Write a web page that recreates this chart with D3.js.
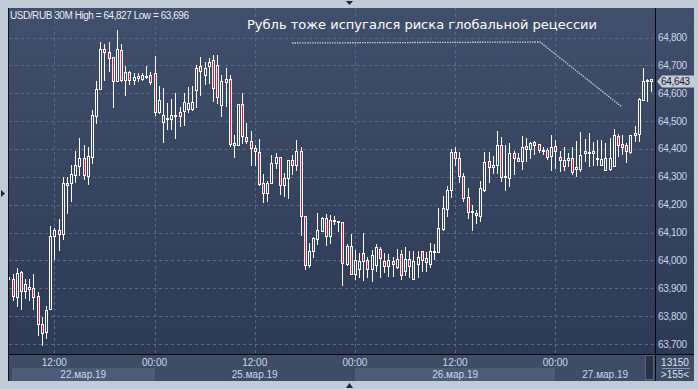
<!DOCTYPE html>
<html>
<head>
<meta charset="utf-8">
<script src="https://cdn.jsdelivr.net/npm/d3@7"></script>
<style>
body { margin: 0; background: #c0cbd8; }
svg { display: block; }
</style>
</head>
<body>
<div id="chart"></div>
<script>
var svgWidth = 698;
var svgHeight = 389;

// 30M candles, USD/RUB 22-27 mar 2019
var open = [63940,63932,63868,63958,63891,63898,63901,63871,63772,63743,63824,64089,64109,64094,64277,64279,64306,64340,64368,64304,
  64372,64519,64616,64758,64747,64729,64643,64754,64649,64675,64646,64654,64652,64661,64664,64671,64532,64496,64510,64509,
  64520,64532,64537,64544,64544,64610,64697,64667,64699,64719,64700,64559,64641,64651,64420,64413,64560,64442,64427,64402,
  64388,64277,64241,64277,64348,64370,64272,64295,64359,64344,64392,64158,63985,64033,64078,64106,64152,64086,64144,64140,
  64138,63987,64051,63952,63970,64025,64000,63970,63985,64041,63998,63981,63998,63977,64022,63961,64004,63934,63988,64032,
  64009,63988,64029,64029,64113,64184,64253,64389,64368,64302,64226,64172,64169,64160,64254,64356,64334,64341,64413,64298,
  64295,64384,64368,64358,64409,64399,64424,64417,64396,64395,64374,64409,64370,64340,64359,64368,64329,64329,64386,64387,
  64386,64366,64343,64326,64328,64338,64445,64417,64413,64389,64449,64455,64577,64643,64650];
var high = [63950,63951,63973,63962,63933,63933,63951,63886,63798,63836,64123,64115,64149,64298,64298,64342,64393,64440,64414,64408,
  64540,64643,64783,64777,64783,64729,64827,64777,64699,64680,64672,64672,64673,64698,64675,64734,64626,64618,64564,64579,
  64602,64550,64602,64622,64626,64700,64729,64712,64726,64738,64738,64667,64691,64665,64450,64560,64601,64493,64463,64413,
  64436,64311,64284,64379,64385,64370,64314,64359,64379,64431,64407,64158,64062,64085,64170,64157,64168,64162,64158,64141,
  64138,64059,64095,64038,64027,64098,64014,64036,64059,64049,64027,64023,64013,64042,64037,64047,64033,64033,64033,64032,
  64030,64062,64059,64188,64232,64267,64400,64407,64389,64314,64259,64200,64182,64284,64389,64389,64374,64464,64443,64413,
  64420,64392,64385,64446,64438,64426,64430,64417,64408,64403,64449,64431,64394,64407,64385,64407,64427,64461,64436,64456,
  64425,64433,64431,64421,64439,64472,64454,64449,64421,64449,64483,64583,64691,64651,64650];
var low = [63925,63858,63836,63827,63866,63859,63827,63731,63696,63722,63824,64006,64038,64078,64169,64213,64280,64306,64291,64275,
  64351,64494,64616,64647,64681,64552,64643,64645,64594,64632,64634,64645,64646,64656,64632,64523,64529,64426,64472,64473,
  64438,64481,64485,64532,64540,64550,64595,64634,64637,64573,64566,64519,64554,64411,64372,64413,64421,64421,64343,64341,
  64272,64209,64214,64277,64331,64239,64232,64225,64311,64326,64092,63970,63977,64012,64059,64106,64056,64062,64131,64106,
  63913,63982,63952,63934,63940,63931,63941,63925,63961,63939,63957,63943,63943,63973,63934,63947,63939,63934,63939,63961,
  63963,63977,64006,64029,64109,64160,64226,64341,64281,64212,64152,64108,64134,64142,64248,64281,64314,64314,64286,64254,
  64268,64311,64356,64329,64358,64368,64382,64388,64382,64365,64326,64332,64322,64326,64340,64311,64304,64322,64358,64340,
  64341,64343,64341,64326,64326,64338,64376,64382,64354,64385,64427,64427,64577,64573,64609];
var close = [63935,63873,63955,63891,63915,63903,63870,63773,63741,63822,64087,64108,64096,64277,64272,64310,64341,64368,64306,64375,
  64521,64614,64758,64747,64725,64643,64758,64649,64675,64646,64658,64662,64665,64663,64641,64532,64576,64521,64512,64521,
  64522,64518,64569,64565,64569,64691,64679,64689,64712,64620,64588,64643,64651,64419,64413,64560,64445,64427,64402,64392,
  64274,64241,64277,64348,64370,64272,64295,64359,64341,64392,64158,63985,64033,64080,64109,64152,64088,64144,64146,64141,
  63990,64051,63952,64000,63997,63997,63970,64020,64048,64009,63981,64000,63988,64005,63949,64005,63981,63997,64014,64002,
  63993,64032,64033,64116,64188,64253,64389,64366,64302,64225,64173,64176,64162,64259,64352,64334,64342,64413,64300,64303,
  64384,64369,64358,64407,64399,64420,64414,64395,64398,64370,64406,64392,64359,64359,64368,64317,64335,64377,64392,64389,
  64394,64368,64364,64366,64366,64451,64415,64408,64392,64449,64457,64579,64643,64647,64643];

var priceTicks = [63700,63800,63900,64000,64100,64200,64300,64400,64500,64600,64700,64800];
var timeIndex = [11,35,59,83,107,131];
var timeLabels = ["12:00","00:00","12:00","00:00","12:00","00:00"];
var dayStart = [-11,35,83,131];
var dateLabels = ["22.мар.19","25.мар.19","26.мар.19","27.мар.19"];
var lastPrice = 64643;

var plotLeft = 9, plotRight = 655, plotTop = 8, plotBottom = 354;

var x = d3.scaleLinear().domain([0, 154]).range([8.4, 651.35]);
var y = d3.scaleLinear().domain([63700, 64800]).range([344, 37.5]);
var fmt = function(d) { return d3.format(",")(d); };

var svg = d3.select("#chart")
  .append("svg")
  .attr("width", svgWidth)
  .attr("height", svgHeight);

var defs = svg.append("defs");
var grad = defs.append("linearGradient").attr("id", "bg").attr("x1", 0).attr("y1", 0).attr("x2", 0).attr("y2", 1);
grad.append("stop").attr("offset", "0%").attr("stop-color", "#404f6b");
grad.append("stop").attr("offset", "100%").attr("stop-color", "#2b3853");
defs.append("clipPath").attr("id", "plotclip")
  .append("rect").attr("x", plotLeft).attr("y", plotTop).attr("width", plotRight - plotLeft).attr("height", plotBottom - plotTop);

// frame
svg.append("rect").attr("width", svgWidth).attr("height", svgHeight).attr("fill", "#c0cbd8");
svg.append("rect").attr("x", 8).attr("y", plotTop).attr("width", 686).attr("height", 373).attr("fill", "url(#bg)");

// bottom axis area
svg.append("rect").attr("x", 9).attr("y", 355).attr("width", 685).attr("height", 26).attr("fill", "#3e4c66");
svg.selectAll("rect.dayband")
  .data(dayStart)
  .enter()
  .append("rect")
  .attr("class", "dayband")
  .attr("x", function(d, i) { return i == 0 ? 12 : Math.round(x(d)); })
  .attr("y", 368)
  .attr("width", function(d, i) {
    var a = i == 0 ? 12 : Math.round(x(d));
    var b = i < dayStart.length - 1 ? Math.round(x(dayStart[i + 1])) : plotRight;
    return b - a;
  })
  .attr("height", 13)
  .attr("fill", function(d, i) { return i % 2 == 0 ? "#4c5b76" : "#3e4c66"; });
// scroll box
svg.append("rect").attr("x", 645.5).attr("y", 355.5).attr("width", 8).attr("height", 24)
  .attr("fill", "#26324a").attr("stroke", "#56647c");

// grid
svg.selectAll("line.hgrid")
  .data(priceTicks)
  .enter()
  .append("line")
  .attr("class", "hgrid")
  .attr("x1", plotLeft).attr("x2", plotRight)
  .attr("y1", function(d) { return Math.round(y(d)) + 0.5; })
  .attr("y2", function(d) { return Math.round(y(d)) + 0.5; })
  .attr("stroke", "#5a6a86").attr("stroke-dasharray", "3,3");
svg.selectAll("line.vgrid")
  .data(timeIndex)
  .enter()
  .append("line")
  .attr("class", "vgrid")
  .attr("x1", function(d) { return Math.round(x(d)) + 0.5; })
  .attr("x2", function(d) { return Math.round(x(d)) + 0.5; })
  .attr("y1", plotTop).attr("y2", plotBottom)
  .attr("stroke", "#5a6a86").attr("stroke-dasharray", "3,3");

// candles
var candles = svg.append("g").attr("clip-path", "url(#plotclip)")
  .selectAll("g")
  .data(d3.range(open.length))
  .enter()
  .append("g");

candles.append("line")
  .attr("x1", function(i) { return Math.round(x(i)) + 0.5; })
  .attr("x2", function(i) { return Math.round(x(i)) + 0.5; })
  .attr("y1", function(i) { return Math.round(y(high[i])); })
  .attr("y2", function(i) { return Math.round(y(low[i])) + 1; })
  .attr("stroke", "#ffffff");

candles.append("rect")
  .attr("x", function(i) { return Math.round(x(i)) - 0.5; })
  .attr("y", function(i) { return Math.round(y(Math.max(open[i], close[i]))) + 0.5; })
  .attr("width", 2)
  .attr("height", function(i) {
    return Math.max(1, Math.round(y(Math.min(open[i], close[i]))) - Math.round(y(Math.max(open[i], close[i]))));
  })
  .attr("fill", function(i) { return close[i] < open[i] ? "#e2163f" : "#34425d"; })
  .attr("stroke", "#ffffff");

// axis lines
svg.append("line").attr("x1", 8.5).attr("x2", 8.5).attr("y1", plotTop).attr("y2", 381).attr("stroke", "#0d1420");
svg.append("line").attr("x1", 8).attr("x2", 694).attr("y1", 354.5).attr("y2", 354.5).attr("stroke", "#05080d");
svg.append("line").attr("x1", 655.5).attr("x2", 655.5).attr("y1", plotTop).attr("y2", 381).attr("stroke", "#05080d");

// price labels
svg.selectAll("text.price")
  .data(priceTicks)
  .enter()
  .append("text")
  .attr("class", "price")
  .text(function(d) { return fmt(d); })
  .attr("x", 658)
  .attr("y", function(d) { return y(d) + 3.5; })
  .attr("font-family", "Liberation Sans, Arial, sans-serif")
  .attr("font-size", "10px")
  .attr("letter-spacing", "-0.3px")
  .attr("fill", "#c9d6ea");

// last price tag
var tagY = Math.round(y(lastPrice)) + 0.5;
svg.append("path")
  .attr("d", "M657," + tagY + " L662," + (tagY - 6) + " L695," + (tagY - 6) + " L695," + (tagY + 6) + " L662," + (tagY + 6) + " Z")
  .attr("fill", "#c6cdd7");
svg.append("text")
  .text(fmt(lastPrice))
  .attr("x", 661).attr("y", tagY + 3.5)
  .attr("font-family", "Liberation Sans, Arial, sans-serif")
  .attr("font-size", "10px")
  .attr("letter-spacing", "-0.3px")
  .attr("fill", "#152033");

// time labels
svg.selectAll("text.time")
  .data(timeIndex)
  .enter()
  .append("text")
  .attr("class", "time")
  .text(function(d, i) { return timeLabels[i]; })
  .attr("x", function(d) { return x(d); })
  .attr("y", 366)
  .attr("text-anchor", "middle")
  .attr("font-family", "Liberation Sans, Arial, sans-serif")
  .attr("font-size", "10px")
  .attr("fill", "#c9d8ef");

svg.selectAll("text.date")
  .data(dayStart)
  .enter()
  .append("text")
  .attr("class", "date")
  .text(function(d, i) { return dateLabels[i]; })
  .attr("x", function(d, i) {
    var a = i == 0 ? 12 : x(d);
    var b = i < dayStart.length - 1 ? x(dayStart[i + 1]) : plotRight;
    return (a + b) / 2;
  })
  .attr("y", 378)
  .attr("text-anchor", "middle")
  .attr("font-family", "Liberation Sans, Arial, sans-serif")
  .attr("font-size", "10px")
  .attr("fill", "#c9d8ef");

// corner counters
svg.append("text").text("13150").attr("x", 675).attr("y", 365.5).attr("text-anchor", "middle")
  .attr("font-family", "Liberation Sans, Arial, sans-serif").attr("font-size", "10px").attr("fill", "#dbe4f0");
svg.append("line").attr("x1", 662).attr("x2", 690).attr("y1", 368.5).attr("y2", 368.5).attr("stroke", "#8a97ab");
svg.append("text").text(">155<").attr("x", 675).attr("y", 378).attr("text-anchor", "middle")
  .attr("font-family", "Liberation Sans, Arial, sans-serif").attr("font-size", "10px").attr("fill", "#dbe4f0");

// header
svg.append("text")
  .text("USD/RUB 30M  High = 64,827 Low = 63,696")
  .attr("x", 10).attr("y", 18.5)
  .attr("font-family", "Liberation Sans, Arial, sans-serif")
  .attr("font-size", "10px")
  .attr("textLength", 179)
  .attr("fill", "#e6edf6");

// annotation
svg.append("text")
  .text("Рубль тоже испугался риска глобальной рецессии")
  .attr("x", 247).attr("y", 28.5)
  .attr("font-family", "DejaVu Sans, sans-serif")
  .attr("font-size", "12px")
  .attr("textLength", 350)
  .attr("lengthAdjust", "spacingAndGlyphs")
  .attr("fill", "#ffffff");
svg.append("polyline")
  .attr("points", "292,43 540,42 622,107")
  .attr("fill", "none")
  .attr("stroke", "#c3cad6")
  .attr("stroke-width", 1.3)
  .attr("stroke-dasharray", "1.5,1");

// frame arrows
svg.append("path").attr("d", "M346,1 L353,1 L349.5,5 Z").attr("fill", "#1c2636");
svg.append("path").attr("d", "M346,388 L353,388 L349.5,383 Z").attr("fill", "#1c2636");
svg.append("path").attr("d", "M1,190 L1,197 L5,193.5 Z").attr("fill", "#1c2636");
</script>
</body>
</html>
